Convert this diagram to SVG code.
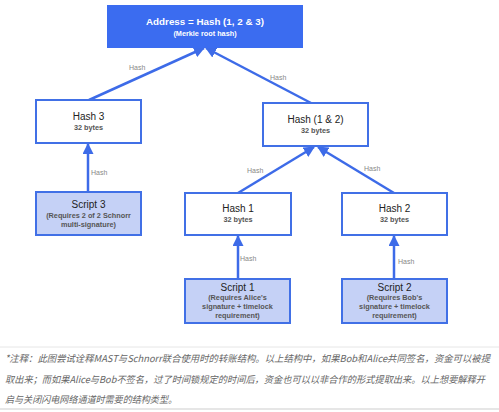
<svg xmlns="http://www.w3.org/2000/svg" width="499" height="412" viewBox="0 0 499 412">
<defs>
<marker id="ah" markerWidth="11" markerHeight="11" refX="10" refY="5.5" orient="auto" markerUnits="userSpaceOnUse" viewBox="0 0 11 11"><path d="M0,0 L11,5.5 L0,11 z" fill="#3d6be8"/></marker>
<style>
.box{fill:#fff;stroke:#4170e6;stroke-width:2}
.scr{fill:#c5d1f6;stroke:#4170e6;stroke-width:2}
.t{font-family:"Liberation Sans",Arial,sans-serif;font-size:10px;fill:#222;text-anchor:middle}
.s{font-family:"Liberation Sans",Arial,sans-serif;font-size:7.3px;fill:#555;font-weight:bold;text-anchor:middle}
.lbl{font-family:"Liberation Sans",Arial,sans-serif;font-size:7px;fill:#888}
.c{stroke:#3d6be8;stroke-width:2.5;fill:none;marker-end:url(#ah)}
.cap{font-family:"Noto Sans CJK SC","Liberation Sans",sans-serif;font-size:9.5px;fill:#666;font-style:italic}
</style>
</defs>
<rect width="499" height="412" fill="#fff"/>
<g id="connectors">
<line class="c" x1="89" y1="100" x2="204" y2="48"/>
<line class="c" x1="311" y1="103" x2="206" y2="48"/>
<line class="c" x1="88" y1="192" x2="88" y2="144"/>
<line class="c" x1="238" y1="193" x2="314" y2="147"/>
<line class="c" x1="394" y1="193" x2="318" y2="147"/>
<line class="c" x1="238" y1="279" x2="238" y2="236"/>
<line class="c" x1="394" y1="279" x2="394" y2="236"/>
<text class="lbl" x="129" y="70">Hash</text>
<text class="lbl" x="270" y="80">Hash</text>
<text class="lbl" x="91" y="175">Hash</text>
<text class="lbl" x="247" y="173">Hash</text>
<text class="lbl" x="364" y="171">Hash</text>
<text class="lbl" x="240" y="261">Hash</text>
<text class="lbl" x="398" y="264">Hash</text>
</g>
<g id="root">
<rect x="107" y="5" width="196" height="43" fill="#3b6cf0"/>
<text x="205" y="25" class="t" style="fill:#fff;font-weight:bold;font-size:9.8px">Address = Hash (1, 2 &amp; 3)</text>
<text x="205" y="36" class="s" style="fill:#fff">(Merkle root hash)</text>
</g>
<g id="hash3">
<rect class="box" x="36" y="100" width="105" height="43"/>
<text class="t" x="88.5" y="120">Hash 3</text>
<text class="s" x="88.5" y="130">32 bytes</text>
</g>
<g id="script3">
<rect class="scr" x="36" y="192" width="105" height="43"/>
<text class="t" x="88.5" y="208">Script 3</text>
<text class="s" x="88.5" y="218">(Requires 2 of 2 Schnorr</text>
<text class="s" x="88.5" y="227">multi-signature)</text>
</g>
<g id="hash12">
<rect class="box" x="263" y="103" width="105" height="43"/>
<text class="t" x="315.5" y="123">Hash (1 &amp; 2)</text>
<text class="s" x="315.5" y="133">32 bytes</text>
</g>
<g id="hash1">
<rect class="box" x="185" y="193" width="106" height="42"/>
<text class="t" x="238" y="212">Hash 1</text>
<text class="s" x="238" y="222">32 bytes</text>
</g>
<g id="hash2">
<rect class="box" x="342" y="193" width="105" height="42"/>
<text class="t" x="394.5" y="212">Hash 2</text>
<text class="s" x="394.5" y="222">32 bytes</text>
</g>
<g id="script1">
<rect class="scr" x="185" y="279" width="105" height="44"/>
<text class="t" x="237.5" y="291">Script 1</text>
<text class="s" x="237.5" y="300">(Requires Alice's</text>
<text class="s" x="237.5" y="309">signature + timelock</text>
<text class="s" x="237.5" y="318">requirement)</text>
</g>
<g id="script2">
<rect class="scr" x="342" y="279" width="105" height="44"/>
<text class="t" x="394.5" y="291">Script 2</text>
<text class="s" x="394.5" y="300">(Requires Bob's</text>
<text class="s" x="394.5" y="309">signature + timelock</text>
<text class="s" x="394.5" y="318">requirement)</text>
</g>
<g id="caption">
<line x1="0" y1="347" x2="499" y2="347" stroke="#e6e6e6" stroke-width="1"/>
<line x1="0" y1="409" x2="499" y2="409" stroke="#e6e6e6" stroke-width="2"/>
<text class="cap" x="5" y="362" textLength="485" lengthAdjust="spacingAndGlyphs">*注释：此图尝试诠释MAST与Schnorr联合使用时的转账结构。以上结构中，如果Bob和Alice共同签名，资金可以被提</text>
<text class="cap" x="5" y="383" textLength="480" lengthAdjust="spacingAndGlyphs">取出来；而如果Alice与Bob不签名，过了时间锁规定的时间后，资金也可以以非合作的形式提取出来。以上想要解释开</text>
<text class="cap" x="5" y="403" textLength="172" lengthAdjust="spacingAndGlyphs">启与关闭闪电网络通道时需要的结构类型。</text>
</g>
</svg>
